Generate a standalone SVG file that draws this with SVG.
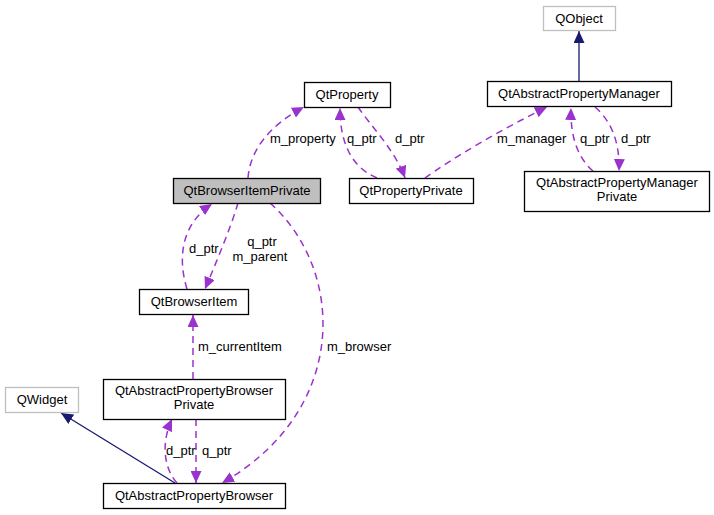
<svg xmlns="http://www.w3.org/2000/svg" width="714" height="515" viewBox="0 0 714 515">
<defs>
<marker id="ap" markerUnits="userSpaceOnUse" markerWidth="13" markerHeight="11" refX="12" refY="5.5" orient="auto"><path d="M0,0 L12,5.5 L0,11 z" fill="#9a32cd"/></marker>
<marker id="an" markerUnits="userSpaceOnUse" markerWidth="13" markerHeight="11" refX="12" refY="5.5" orient="auto"><path d="M0,0 L12,5.5 L0,11 z" fill="#191970"/></marker>
</defs>
<style>
text{font-family:"Liberation Sans",Arial,sans-serif;font-size:13px;fill:#000}
.n{text-anchor:middle}
.b{fill:#fff;stroke:#000;stroke-width:1.3}
.g{fill:#fff;stroke:#bfbfbf;stroke-width:1.3}
.s{fill:#bfbfbf;stroke:#000;stroke-width:1.3}
.e{fill:none;stroke:#9a32cd;stroke-width:1.5;stroke-dasharray:7,5;marker-end:url(#ap)}
.i{fill:none;stroke:#191970;stroke-width:1.3;marker-end:url(#an)}
</style>
<rect width="714" height="515" fill="#fff"/>
<g id="connectors">
<path class="i" d="M579,81 L579,31"/>
<path class="i" d="M175,483 L61,413"/>
<path class="e" d="M248,178 C250,150 270,125 304,107"/>
<path class="e" d="M377,178 C358,170 340,152 340,108"/>
<path class="e" d="M358,107 C370,125 395,150 405,178"/>
<path class="e" d="M425,178 C450,160 500,130 547,107"/>
<path class="e" d="M593,171 C580,160 570,140 571,108"/>
<path class="e" d="M595,107 C610,120 620,140 619,171"/>
<path class="e" d="M187,289 C178,260 180,225 212,204"/>
<path class="e" d="M238,203 C230,230 215,265 205,289"/>
<path class="e" d="M270,203 C345,270 350,410 222,483"/>
<path class="e" d="M193,379 L193,315"/>
<path class="e" d="M177,483 C165,470 160,445 172,419"/>
<path class="e" d="M196,419 L196,483"/>
<text x="270" y="143">m_property</text>
<text x="347" y="143">q_ptr</text>
<text x="395" y="143">d_ptr</text>
<text x="497" y="143">m_manager</text>
<text x="580" y="143">q_ptr</text>
<text x="621" y="143">d_ptr</text>
<text x="189" y="253">d_ptr</text>
<text x="262" y="246" class="n">q_ptr</text>
<text x="260" y="261" class="n">m_parent</text>
<text x="198" y="351">m_currentItem</text>
<text x="327" y="351">m_browser</text>
<text x="166" y="455">d_ptr</text>
<text x="202" y="455">q_ptr</text>
</g>
<g id="QObject"><rect class="g" x="543.5" y="6.5" width="72" height="24"/><text class="n" x="579" y="23">QObject</text></g>
<g id="QtAbstractPropertyManager"><rect class="b" x="487.5" y="81.5" width="184" height="25"/><text class="n" x="579" y="98">QtAbstractPropertyManager</text></g>
<g id="QtAbstractPropertyManagerPrivate"><rect class="b" x="524.5" y="171.5" width="185" height="40"/><text class="n" x="617" y="187">QtAbstractPropertyManager</text><text class="n" x="617" y="201">Private</text></g>
<g id="QtProperty"><rect class="b" x="304.5" y="82.5" width="86" height="25"/><text class="n" x="347" y="99">QtProperty</text></g>
<g id="QtPropertyPrivate"><rect class="b" x="349.5" y="178.5" width="124" height="25"/><text class="n" x="411" y="195">QtPropertyPrivate</text></g>
<g id="QtBrowserItemPrivate"><rect class="s" x="173.5" y="178.5" width="147" height="25"/><text class="n" x="247" y="195">QtBrowserItemPrivate</text></g>
<g id="QtBrowserItem"><rect class="b" x="139.5" y="289.5" width="109" height="25"/><text class="n" x="194" y="306">QtBrowserItem</text></g>
<g id="QWidget"><rect class="g" x="5.5" y="387.5" width="73" height="25"/><text class="n" x="42" y="404">QWidget</text></g>
<g id="QtAbstractPropertyBrowserPrivate"><rect class="b" x="103.5" y="379.5" width="182" height="40"/><text class="n" x="194" y="395">QtAbstractPropertyBrowser</text><text class="n" x="194" y="409">Private</text></g>
<g id="QtAbstractPropertyBrowser"><rect class="b" x="103.5" y="483.5" width="182" height="25"/><text class="n" x="194" y="500">QtAbstractPropertyBrowser</text></g>
</svg>
